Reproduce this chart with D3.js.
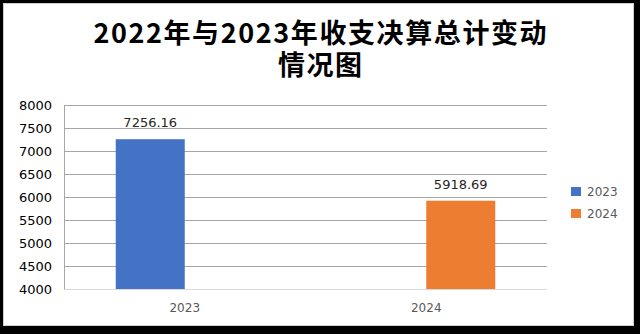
<!DOCTYPE html>
<html><head><meta charset="utf-8">
<script src="https://cdn.jsdelivr.net/npm/d3@7"></script>
<style>html,body{margin:0;padding:0;background:#000;}svg{display:block;}</style>
</head><body>
<svg id="c" width="640" height="334"></svg>
<script>
const categories = ["2023", "2024"];
const seriesNames = ["2023", "2024"];
const series2023 = [7256.16, null];
const series2024 = [null, 5918.69];
const yTicks = [4000, 4500, 5000, 5500, 6000, 6500, 7000, 7500, 8000];
const titleLines = ["2022年与2023年收支决算总计变动", "情况图"];
const colors = ["#4472C4", "#ED7D31"];

const svg = d3.select("#c");
svg.append("rect").attr("x",0).attr("y",0).attr("width",640).attr("height",334).attr("fill","#000");
svg.append("rect").attr("x",3.5).attr("y",3.5).attr("width",630).attr("height",322)
  .attr("fill","#fff").attr("stroke","#d0d0d0").attr("stroke-width",1);

const L = 64, R = 547, T = 105, B = 289;
const y = d3.scaleLinear().domain([4000, 8000]).range([B, T]);
const x0 = d3.scaleBand().domain(categories).range([L, R]).padding(0);
const x1 = d3.scaleBand().domain(seriesNames).range([0, x0.bandwidth()]).paddingInner(0).paddingOuter(0.75);

// title
titleLines.forEach((t,i)=>{
  svg.append("text").attr("text-anchor","middle")
    .attr("font-family","'Noto Sans CJK SC', sans-serif").attr("font-weight","bold")
    .attr("font-size",27).attr("letter-spacing",1.6).attr("fill","#000")
    .attr("x",320 + 0.8).attr("y",43 + i*32).text(t);
});

// gridlines
svg.append("g").selectAll("line").data(yTicks.filter(d=>d>4000)).join("line")
  .attr("x1",L).attr("x2",R).attr("y1",d=>Math.round(y(d))+0.5).attr("y2",d=>Math.round(y(d))+0.5)
  .attr("stroke","#a6a6a6").attr("stroke-width",1);
// left vertical line
svg.append("line").attr("x1",L+0.5).attr("x2",L+0.5).attr("y1",T).attr("y2",B)
  .attr("stroke","#a6a6a6");
// bottom axis
svg.append("line").attr("x1",L).attr("x2",R).attr("y1",B+0.5).attr("y2",B+0.5)
  .attr("stroke","#d9d9d9");

// y axis labels
const yAxis = d3.axisLeft(y).tickValues(yTicks).tickSize(0).tickPadding(0).tickFormat(d3.format("d"));
const ya = svg.append("g").attr("transform",`translate(${L-12},0)`).call(yAxis);
ya.select(".domain").remove();
ya.selectAll("text").attr("font-family","'DejaVu Sans', sans-serif").attr("font-size",13).attr("fill","#000");

// x axis labels
const xAxis = d3.axisBottom(x0).tickSize(0).tickPadding(0);
const xa = svg.append("g").attr("transform",`translate(0,${B+14})`).call(xAxis);
xa.select(".domain").remove();
xa.selectAll("text").attr("font-family","'DejaVu Sans', sans-serif").attr("font-size",12).attr("fill","#595959");

// bars
const allSeries = [series2023, series2024];
const data = [];
categories.forEach((c,ci)=>{
  seriesNames.forEach((s,si)=>{
    const v = allSeries[si][ci];
    if (v != null) data.push({c, s, si, v});
  });
});
svg.append("g").selectAll("rect").data(data).join("rect")
  .attr("x",d=>x0(d.c)+x1(d.s)).attr("width",x1.bandwidth())
  .attr("y",d=>y(d.v)).attr("height",d=>B-y(d.v))
  .attr("fill",d=>colors[d.si]);
svg.append("g").selectAll("text").data(data).join("text")
  .attr("x",d=>x0(d.c)+x1(d.s)+x1.bandwidth()/2).attr("y",d=>y(d.v)-12)
  .attr("text-anchor","middle").attr("font-family","'DejaVu Sans', sans-serif")
  .attr("font-size",13).attr("fill","#262626").text(d=>d3.format(".2f")(d.v));

// legend
const lg = svg.append("g").attr("transform","translate(571,187)");
seriesNames.forEach((s,i)=>{
  const g = lg.append("g").attr("transform",`translate(0,${i*22})`);
  g.append("rect").attr("width",10).attr("height",9).attr("fill",colors[i]);
  g.append("text").attr("x",16).attr("y",4.5).attr("dominant-baseline","central")
    .attr("font-family","'DejaVu Sans', sans-serif").attr("font-size",12).attr("fill","#595959").text(s);
});
</script>
</body></html>
